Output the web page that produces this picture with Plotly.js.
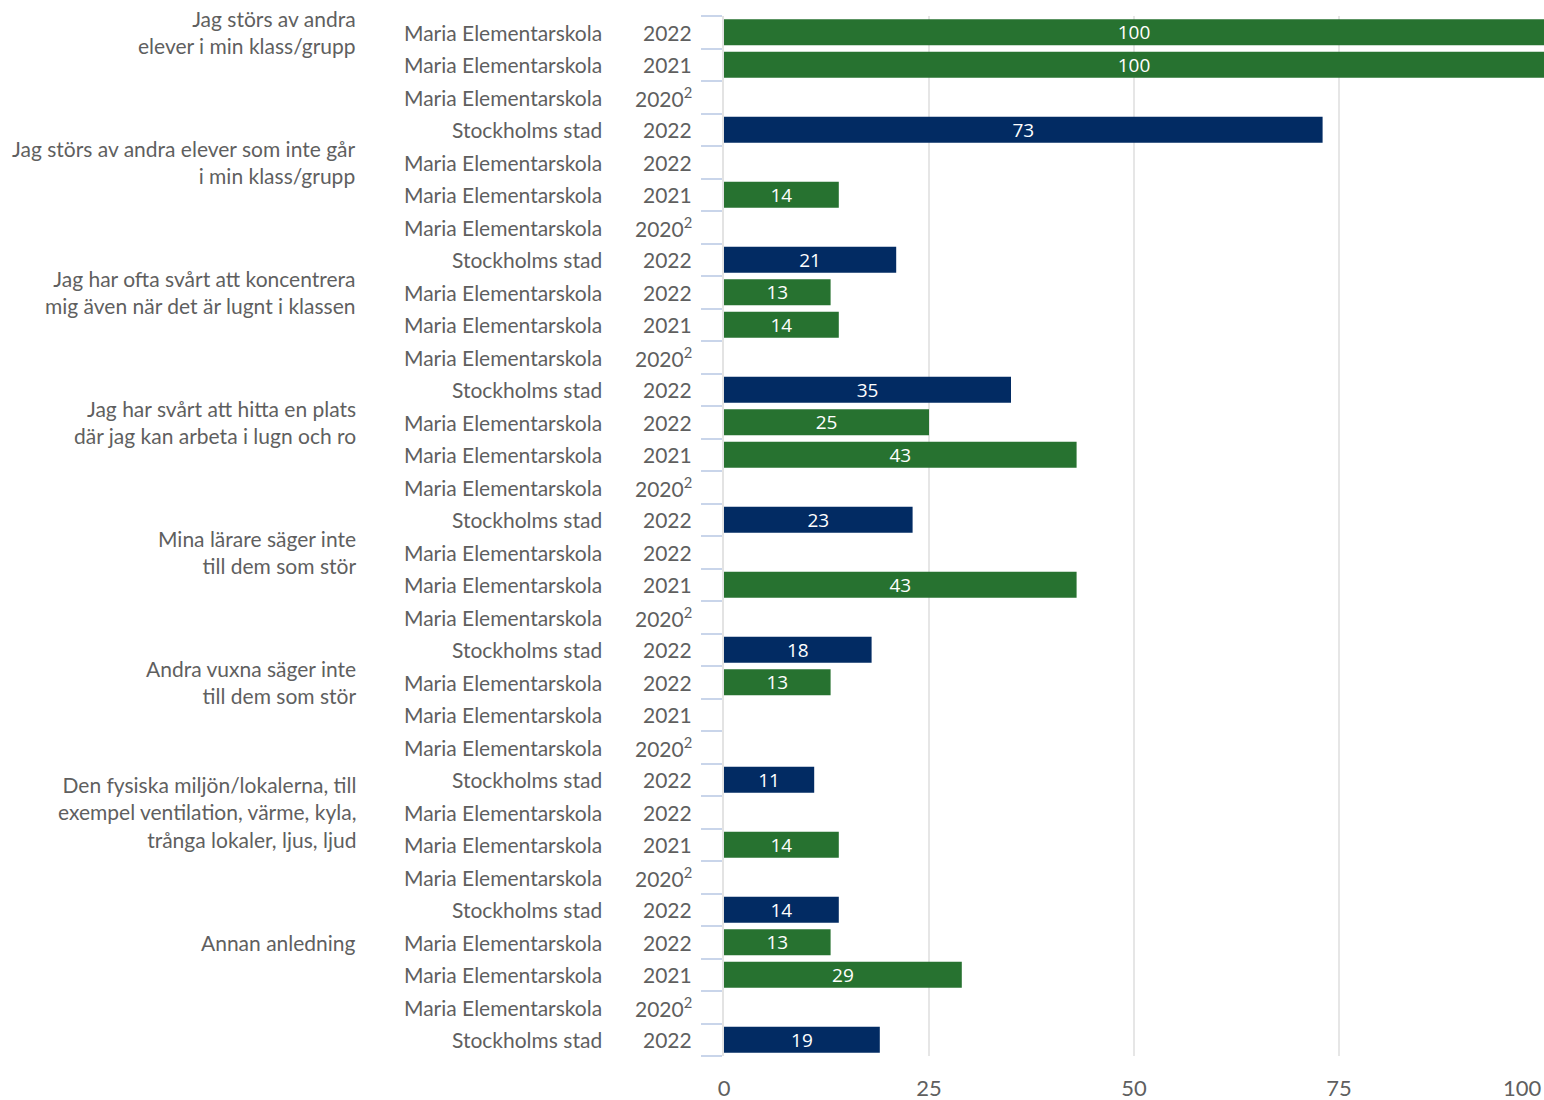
<!DOCTYPE html>
<html><head><meta charset="utf-8">
<script src="https://cdn.plot.ly/plotly-3.0.1.min.js"></script>
<style>body{margin:0;background:#fff}#c{width:1544px;height:1100px}</style>
</head><body><div id="c"></div>
<script>
const groups = [
  "Jag störs av andra<br>elever i min klass/grupp",
  "Jag störs av andra elever som inte går<br>i min klass/grupp",
  "Jag har ofta svårt att koncentrera<br>mig även när det är lugnt i klassen",
  "Jag har svårt att hitta en plats<br>där jag kan arbeta i lugn och ro",
  "Mina lärare säger inte<br>till dem som stör",
  "Andra vuxna säger inte<br>till dem som stör",
  "Den fysiska miljön/lokalerna, till<br>exempel ventilation, värme, kyla,<br>trånga lokaler, ljus, ljud",
  "Annan anledning"
];
const units = ["Maria Elementarskola","Maria Elementarskola","Maria Elementarskola","Stockholms stad"];
const years = ["2022","2021","2020<sup>2</sup>","2022"];
const rowColors = ["#277230","#277230","#277230","#022b63"];
// values per group: [Maria 2022, Maria 2021, Maria 2020, Stockholm 2022]; null = no bar
const values = [
  [100, 100, null, 73],
  [null, 14, null, 21],
  [13, 14, null, 35],
  [25, 43, null, 23],
  [null, 43, null, 18],
  [13, null, null, 11],
  [null, 14, null, 14],
  [13, 29, null, 19]
];
const xTicks = [0, 25, 50, 75];

const ys = [], xs = [], cols = [], txt = [];
const ann = [];
const textColor = "#5f5f5f";
const fontFam = "Lato, 'Noto Sans', sans-serif";
groups.forEach((g, gi) => {
  for (let r = 0; r < 4; r++) {
    const idx = gi * 4 + r;
    const v = values[gi][r];
    if (v !== null) {
      ys.push(idx); xs.push(v); cols.push(rowColors[r]); txt.push(String(v));
    }
    ann.push({xref: "paper", yref: "y", x: -0.1463, y: idx, xanchor: "right", yanchor: "middle",
      text: units[r], showarrow: false, font: {family: fontFam, size: 21, color: textColor}});
    ann.push({xref: "paper", yref: "y", x: -0.0366, y: idx, xanchor: "right", yanchor: "middle",
      text: years[r], showarrow: false, font: {family: fontFam, size: 21, color: textColor}});
  }
  ann.push({xref: "paper", yref: "y", x: -0.4463, y: gi * 4, xanchor: "right", yanchor: "middle",
    align: "right", text: g, showarrow: false, font: {family: fontFam, size: 21, color: textColor}});
});
ann.push({xref: "x", yref: "paper", x: 100, y: 0, yshift: -31, xanchor: "right", yanchor: "middle",
  text: "100", showarrow: false, font: {family: fontFam, size: 22, color: textColor}});

const boundaries = [];
for (let i = 0; i <= 32; i++) boundaries.push(i - 0.5);

const trace = {
  type: "bar", orientation: "h", y: ys, x: xs,
  marker: {color: cols},
  text: txt, textposition: "inside", insidetextanchor: "middle", textangle: 0,
  constraintext: "none",
  textfont: {family: "'Open Sans', 'Noto Sans', sans-serif", size: 19, color: "#ffffff"},
  hoverinfo: "none", cliponaxis: false
};

const layout = {
  width: 1544, height: 1100,
  margin: {l: 724, r: 0, t: 16, b: 44},
  paper_bgcolor: "#fff", plot_bgcolor: "#fff",
  bargap: 0.2,
  showlegend: false,
  xaxis: {range: [0, 100], tickvals: xTicks, ticktext: xTicks.map(String),
    showgrid: true, gridcolor: "#e6e6e6", gridwidth: 2, zeroline: false,
    ticks: "outside", ticklen: 13, tickcolor: "rgba(0,0,0,0)",
    tickfont: {family: fontFam, size: 22, color: textColor}, fixedrange: true},
  yaxis: {range: [31.5, -0.5], tickvals: boundaries, showticklabels: false,
    ticks: "outside", ticklen: 21, tickcolor: "#c9d5ea", tickwidth: 2,
    showgrid: false, zeroline: false, showline: true, linecolor: "#e3e3e3", linewidth: 2,
    fixedrange: true},
  annotations: ann
};
Plotly.newPlot("c", [trace], layout, {staticPlot: true});
</script></body></html>
